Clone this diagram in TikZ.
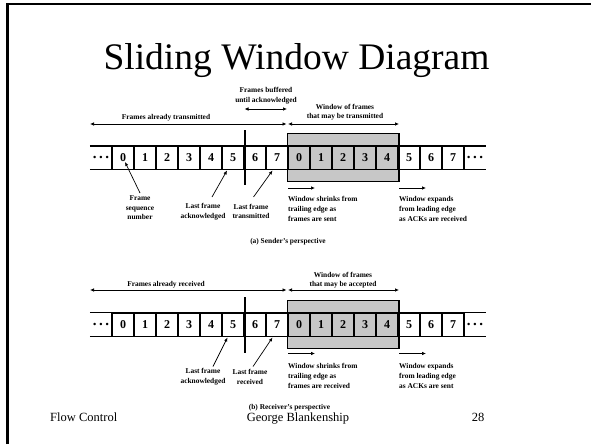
\documentclass[tikz,border=0pt]{standalone}
\usepackage{fontspec}
\setmainfont{Liberation Serif}
\usetikzlibrary{arrows.meta}

\newcommand{\celldots}{{\fontsize{15}{15}\selectfont\bfseries .\hspace{2.6pt}.\hspace{2.6pt}.}}

\begin{document}
\begin{tikzpicture}[x=1pt,y=-1pt,
  cell/.style={draw, line width=1.1pt, minimum width=22pt, minimum height=23.5pt,
    inner sep=0pt, font=\bfseries\fontsize{12}{12}\selectfont},
  dotcell/.style={minimum width=22pt, minimum height=23.5pt, inner sep=0pt},
  stripline/.style={line width=1.1pt},
  lbl/.style={font=\bfseries\fontsize{7.4}{9.6}\selectfont, align=center, inner sep=0pt},
  lbll/.style={lbl, align=left, anchor=west},
  arr/.style={line width=0.7pt, -{Latex[length=4pt,width=3.5pt]}},
  darr/.style={line width=0.7pt, {Latex[length=4pt,width=3.5pt]}-{Latex[length=4pt,width=3.5pt]}},
  winbox/.style={draw, line width=1.3pt, fill=black!22, inner sep=0pt,
    minimum width=111.5pt},
  ackbar/.style={line width=2pt},
  slidetitle/.style={font=\fontsize{37.5}{40}\selectfont, anchor=base, inner sep=0pt},
  footer/.style={font=\fontsize{12.5}{14}\selectfont, anchor=base, inner sep=0pt},
]
\useasboundingbox (0,0) rectangle (591,444);

% slide frame
\draw[line width=3pt] (7.5,444) -- (7.5,4.2);
\draw[line width=2pt] (6,4.2) -- (591,4.2);

% title
\node[slidetitle] (title) at (296.5,70) {Sliding Window Diagram};

% ---------------- (a) sender ----------------
\node[winbox, minimum height=48.4pt] (sbox) at (343.25,157.5) {};
\foreach \i [evaluate=\i as \n using {int(mod(\i,8))}] in {0,...,15}
  \node[cell] (s\i) at ({123+22*\i},157.9) {\n};
\node[dotcell] (sdl) at (101,157.9) {\celldots};
\node[dotcell] (sdr) at (475,157.9) {\celldots};
\draw[stripline] (sdl.north west) -- (sdr.north east);
\draw[stripline] (sdl.south west) -- (sdr.south east);
\coordinate (sbarT) at (244.5,130);
\coordinate (sbarB) at (244.5,185);
\draw[ackbar] (sbarT) -- (sbarB);

\node[lbl] (sbuf) at (266,95.5) {Frames buffered\\until acknowledged};
\coordinate (sbufL) at (244.5,109);
\coordinate (sbufR) at (287,109);
\draw[darr] (sbufL) -- (sbufR);

\node[lbl] (sall) at (166,118) {Frames already transmitted};
\coordinate (sallL) at (90,124);
\coordinate (sallR) at (286.5,124);
\draw[darr] (sallL) -- (sallR);

\node[lbl] (swin) at (345,112) {Window of frames\\that may be transmitted};
\coordinate (swinL) at (288,124);
\coordinate (swinR) at (399,124);
\draw[darr] (swinL) -- (swinR);

\node[lbl] (sseq) at (140,208) {Frame\\sequence\\number};
\coordinate (sseqT) at (125,162);
\coordinate (sseqS) at (140,193);
\draw[arr] (sseqS) -- (sseqT);

\node[lbl] (slfa) at (203,211.5) {Last frame\\acknowledged};
\coordinate (slfaT) at (227,170.5);
\coordinate (slfaS) at (212,197);
\draw[arr] (slfaS) -- (slfaT);

\node[lbl] (slft) at (251,211.5) {Last frame\\transmitted};
\coordinate (slftT) at (272.5,170.5);
\coordinate (slftS) at (253.5,197);
\draw[arr] (slftS) -- (slftT);

\coordinate (sshL) at (288,188);
\coordinate (sshR) at (315,188);
\draw[arr] (sshL) -- (sshR);
\node[lbll] (ssh) at (288,209) {Window shrinks from\\trailing edge as\\frames are sent};

\coordinate (sexL) at (399,188);
\coordinate (sexR) at (426,188);
\draw[arr] (sexL) -- (sexR);
\node[lbll] (sex) at (399,209) {Window expands\\from leading edge\\as ACKs are received};

\node[lbl] (scap) at (288,242) {(a) Sender's perspective};

% ---------------- (b) receiver ----------------
\node[winbox, minimum height=47.6pt] (rbox) at (343.25,324.5) {};
\foreach \i [evaluate=\i as \n using {int(mod(\i,8))}] in {0,...,15}
  \node[cell] (r\i) at ({123+22*\i},324.7) {\n};
\node[dotcell] (rdl) at (101,324.7) {\celldots};
\node[dotcell] (rdr) at (475,324.7) {\celldots};
\draw[stripline] (rdl.north west) -- (rdr.north east);
\draw[stripline] (rdl.south west) -- (rdr.south east);
\coordinate (rbarT) at (244.5,297);
\coordinate (rbarB) at (244.5,353);
\draw[ackbar] (rbarT) -- (rbarB);

\node[lbl] (rall) at (166,285) {Frames already received};
\coordinate (rallL) at (90,290);
\coordinate (rallR) at (286.5,290);
\draw[darr] (rallL) -- (rallR);

\node[lbl] (rwin) at (343,280) {Window of frames\\that may be accepted};
\coordinate (rwinL) at (288,290);
\coordinate (rwinR) at (399,290);
\draw[darr] (rwinL) -- (rwinR);

\node[lbl] (rlfa) at (203,377) {Last frame\\acknowledged};
\coordinate (rlfaT) at (227.5,337.5);
\coordinate (rlfaS) at (213,366.5);
\draw[arr] (rlfaS) -- (rlfaT);

\node[lbl] (rlfr) at (250,377) {Last frame\\received};
\coordinate (rlfrT) at (272.5,337.5);
\coordinate (rlfrS) at (253,366.5);
\draw[arr] (rlfrS) -- (rlfrT);

\coordinate (rshL) at (288,353.5);
\coordinate (rshR) at (315,353.5);
\draw[arr] (rshL) -- (rshR);
\node[lbll] (rsh) at (288,376) {Window shrinks from\\trailing edge as\\frames are received};

\coordinate (rexL) at (399,353.5);
\coordinate (rexR) at (426,353.5);
\draw[arr] (rexL) -- (rexR);
\node[lbll] (rex) at (399,376) {Window expands\\from leading edge\\as ACKs are sent};

\node[lbl] (rcap) at (289.5,408) {(b) Receiver's perspective};

% footer
\node[footer, anchor=base west] (fleft) at (50,421.5) {Flow Control};
\node[footer] (fmid) at (298,421.5) {George Blankenship};
\node[footer] (fright) at (478,421.5) {28};
\end{tikzpicture}
\end{document}
